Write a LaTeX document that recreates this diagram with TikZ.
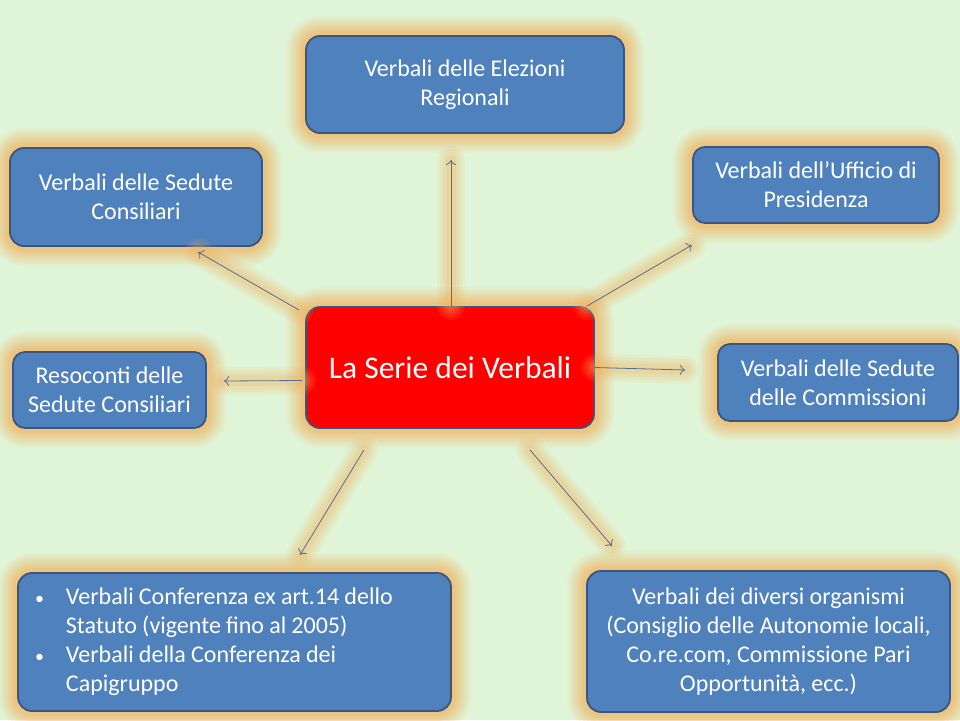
\documentclass[tikz,border=0pt]{standalone}
\usepackage{fontspec}
\setmainfont{Carlito}
\usetikzlibrary{arrows.meta}
\definecolor{bg}{RGB}{224,245,215}
\definecolor{boxblue}{RGB}{79,129,189}
\definecolor{boxedge}{RGB}{58,85,128}
\definecolor{glow}{RGB}{242,178,95}
\definecolor{arr}{RGB}{80,110,155}
\tikzset{
  glowy/.style={
    preaction={draw=glow, line width=40pt, opacity=0.08},
    preaction={draw=glow, line width=35pt, opacity=0.1},
    preaction={draw=glow, line width=30pt, opacity=0.12},
    preaction={draw=glow, line width=25pt, opacity=0.14},
    preaction={draw=glow, line width=20pt, opacity=0.16},
    preaction={draw=glow, line width=15pt, opacity=0.2},
    preaction={draw=glow, line width=10pt, opacity=0.25}},
  box/.style={glowy, draw=boxedge, line width=1.8pt, fill=boxblue, rounded corners=14pt,
    text=white, font=\fontsize{24}{29}\selectfont, align=center, inner sep=0pt},
  centrebox/.style={box, fill=red, font=\fontsize{31.5}{36}\selectfont},
  conn/.style={draw=arr, line width=0.8pt, -{To[length=5pt,width=10pt]},
    preaction={draw=glow, line width=28pt, opacity=0.1, line cap=round, -},
    preaction={draw=glow, line width=22pt, opacity=0.12, line cap=round, -},
    preaction={draw=glow, line width=16pt, opacity=0.15, line cap=round, -},
    preaction={draw=glow, line width=10pt, opacity=0.18, line cap=round, -}},
}
\begin{document}
\begin{tikzpicture}[x=1pt,y=1pt]
\fill[bg] (0,0) rectangle (960,-720);
\useasboundingbox (0,0) rectangle (960,-720);

\node[box, minimum width=318pt, minimum height=97pt] (top) at (465,-84.5)
  {Verbali delle Elezioni\\Regionali};
\node[box, minimum width=252pt, minimum height=98pt] (ul) at (136,-197)
  {Verbali delle Sedute\\Consiliari};
\node[box, minimum width=246pt, minimum height=76pt, rounded corners=12pt] (ur) at (816,-185)
  {Verbali dell’Ufficio di\\Presidenza};
\node[box, minimum width=240pt, minimum height=77pt, rounded corners=12pt] (r) at (838,-382.5)
  {Verbali delle Sedute\\delle Commissioni};
\node[box, minimum width=193pt, minimum height=76pt, rounded corners=12pt] (l) at (109.5,-390)
  {Resoconti delle\\Sedute Consiliari};
\node[centrebox, minimum width=288pt, minimum height=121pt] (c) at (450,-367.5)
  {La Serie dei Verbali};
\node[box, minimum width=433pt, minimum height=138pt, inner xsep=17pt, text width=399pt, align=left] (bl) at (234.5,-642)
  {\spaceskip=0.215em\relax
   \begin{tabular}{@{}l@{\hspace{22pt}}l@{}}
   {\fontsize{18}{29}\selectfont\textbullet} & Verbali Conferenza ex art.14 dello\\
   & Statuto (vigente fino al 2005)\\
   {\fontsize{18}{29}\selectfont\textbullet} & Verbali della Conferenza dei\\
   & Capigruppo
   \end{tabular}};
\node[box, minimum width=363pt, minimum height=141pt] (br) at (768.5,-641.5)
  {Verbali dei diversi organismi\\(Consiglio delle Autonomie locali,\\Co.re.com, Commissione Pari\\Opportunità, ecc.)};

\coordinate (tTop) at (451,-160);
\coordinate (tUL) at (198,-252);
\coordinate (tUR) at (692,-245);
\coordinate (tR) at (685,-370);
\coordinate (tL) at (224,-381);
\coordinate (tBL) at (300,-555);
\coordinate (tBR) at (612,-546);

\draw[conn] ([xshift=1pt]c.north) -- (tTop);
\draw[conn] ([xshift=-6pt,yshift=-4pt]c.north west) -- (tUL);
\draw[conn] ([xshift=-8pt]c.north east) -- (tUR);
\draw[conn] (c.east) -- (tR);
\draw[conn] ([xshift=-3pt,yshift=-13pt]c.west) -- (tL);
\draw[conn] ([xshift=-86pt,yshift=-21pt]c.south) -- (tBL);
\draw[conn] ([xshift=80pt,yshift=-21pt]c.south) -- (tBR);
\end{tikzpicture}
\end{document}
